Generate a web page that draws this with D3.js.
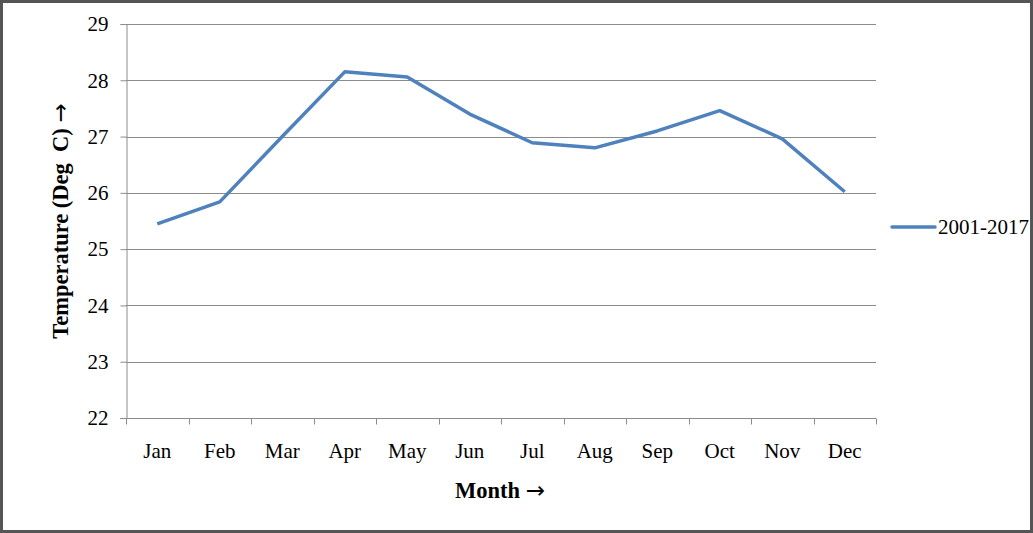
<!DOCTYPE html>
<html>
<head>
<meta charset="utf-8">
<script src="https://cdn.jsdelivr.net/npm/d3@7"></script>
<style>
  body { margin: 0; background: #fff; }
  svg { display: block; }
  text { font-family: "Liberation Serif", "Times New Roman", serif; }
</style>
</head>
<body>
<div id="chart"></div>
<script>
const months = ["Jan", "Feb", "Mar", "Apr", "May", "Jun", "Jul", "Aug", "Sep", "Oct", "Nov", "Dec"];
const temps = [25.45, 25.84, 27.0, 28.15, 28.06, 27.4, 26.89, 26.8, 27.1, 27.46, 26.96, 26.02];
const yTicks = [22, 23, 24, 25, 26, 27, 28, 29];
const seriesName = "2001-2017";

const width = 1033;
const height = 533;
const margin = { top: 24, right: 157, bottom: 115, left: 126 };

const svg = d3.select("#chart")
  .append("svg")
  .attr("width", width)
  .attr("height", height);

// outer frame
svg.append("rect")
  .attr("x", 1.5).attr("y", 1.5)
  .attr("width", width - 3).attr("height", height - 3)
  .attr("fill", "#fff")
  .attr("stroke", "#555")
  .attr("stroke-width", 3);

const x = d3.scaleBand()
  .domain(months)
  .range([margin.left, width - margin.right]);

const y = d3.scaleLinear()
  .domain([22, 29])
  .range([height - margin.bottom, margin.top]);

// gridlines
svg.append("g")
  .selectAll("line")
  .data(yTicks.slice(1))
  .enter()
  .append("line")
  .attr("x1", margin.left)
  .attr("x2", width - margin.right)
  .attr("y1", d => Math.round(y(d)) + 0.5)
  .attr("y2", d => Math.round(y(d)) + 0.5)
  .attr("stroke", "#8c8c8c")
  .attr("stroke-width", 1);

// y axis
const yAxis = svg.append("g")
  .attr("transform", `translate(${margin.left + 0.5},0)`)
  .call(d3.axisLeft(y).tickValues(yTicks).tickFormat(d3.format("d")).tickSize(6).tickPadding(12));
yAxis.selectAll("path, line").attr("stroke", "#8c8c8c");
yAxis.selectAll("text")
  .style("font-size", "21px")
  .style("font-family", "Liberation Serif")
  .attr("fill", "#000");

// x axis: ticks at band boundaries
const xAxisG = svg.append("g")
  .attr("transform", `translate(0,${Math.round(y(22)) + 0.5})`);
xAxisG.append("line")
  .attr("x1", margin.left - 6).attr("x2", width - margin.right)
  .attr("stroke", "#8c8c8c");
xAxisG.selectAll("line.tick")
  .data(months.concat(["end"]))
  .enter()
  .append("line")
  .attr("class", "tick")
  .attr("x1", (d, i) => Math.round(margin.left + i * x.step()) + 0.5)
  .attr("x2", (d, i) => Math.round(margin.left + i * x.step()) + 0.5)
  .attr("y1", 0).attr("y2", 6)
  .attr("stroke", "#8c8c8c");
xAxisG.selectAll("text")
  .data(months)
  .enter()
  .append("text")
  .attr("x", d => x(d) + x.bandwidth() / 2)
  .attr("y", 39)
  .attr("text-anchor", "middle")
  .style("font-size", "21px")
  .text(d => d);

// line
const line = d3.line()
  .x((d, i) => x(months[i]) + x.bandwidth() / 2)
  .y(d => y(d));

svg.append("path")
  .datum(temps)
  .attr("fill", "none")
  .attr("stroke", "#4f81bd")
  .attr("stroke-width", 3.5)
  .attr("stroke-linejoin", "round")
  .attr("d", line);

// axis titles
const xTitle = svg.append("text")
  .attr("x", 500)
  .attr("y", 498)
  .attr("text-anchor", "middle")
  .style("font-size", "22.5px")
  .style("font-weight", "bold");
xTitle.append("tspan").text("Month\u00a0");
xTitle.append("tspan")
  .style("font-family", "DejaVu Sans")
  .style("font-weight", "normal")
  .style("font-size", "23px")
  .text("\u2192");

const yTitle = svg.append("text")
  .attr("transform", `translate(68,221) rotate(-90)`)
  .attr("text-anchor", "middle")
  .style("font-size", "22.5px")
  .style("font-weight", "bold");
yTitle.append("tspan").text("Temperature (Deg\u00a0\u00a0C)\u00a0");
yTitle.append("tspan")
  .style("font-family", "DejaVu Sans")
  .style("font-weight", "normal")
  .style("font-size", "23px")
  .text("\u2192");

// legend
const legend = svg.append("g")
  .attr("transform", `translate(892,227)`);
legend.append("line")
  .attr("x1", 0).attr("x2", 43)
  .attr("stroke", "#4f81bd")
  .attr("stroke-width", 3.5)
  .attr("stroke-linecap", "round");
legend.append("text")
  .attr("x", 46)
  .attr("y", 7)
  .style("font-size", "21px")
  .text(seriesName);
</script>
</body>
</html>
